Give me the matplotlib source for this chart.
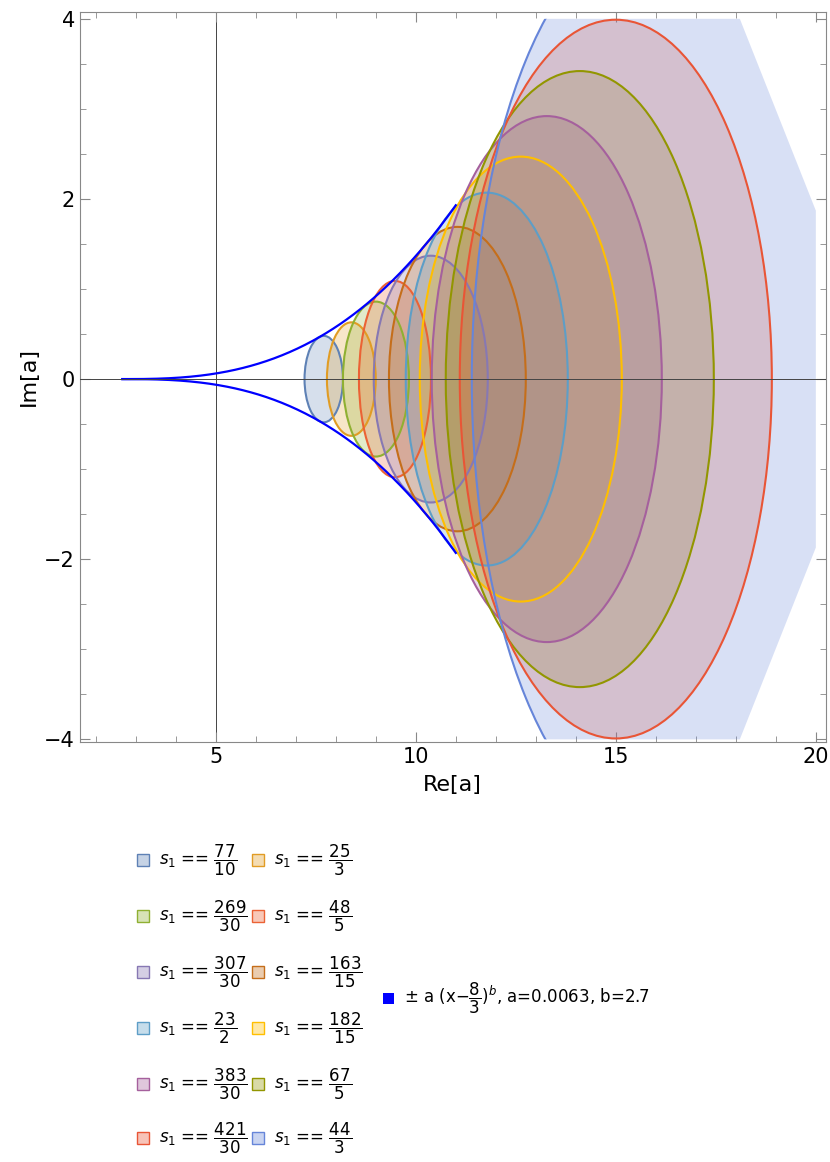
import numpy as np
import matplotlib.pyplot as plt
from matplotlib.patches import Ellipse, Rectangle, Polygon

# s1 labels, colours and read-off region extents (left, right, half-height)
labels = [r"\dfrac{77}{10}", r"\dfrac{25}{3}", r"\dfrac{269}{30}", r"\dfrac{48}{5}",
          r"\dfrac{307}{30}", r"\dfrac{163}{15}", r"\dfrac{23}{2}", r"\dfrac{182}{15}",
          r"\dfrac{383}{30}", r"\dfrac{67}{5}", r"\dfrac{421}{30}", r"\dfrac{44}{3}"]
colors = ["#5E81B5", "#E19C24", "#8FB032", "#EB6235", "#8778B3", "#C56E1A",
          "#5D9EC7", "#FFBF00", "#A5609D", "#929600", "#E95536", "#6685D9"]
lefts = [7.22, 7.78, 8.18, 8.58, 8.95, 9.33, 9.75, 10.1, 10.4, 10.75, 11.1, 11.4]
rights = [8.18, 9.0, 9.83, 10.38, 11.8, 12.75, 13.8, 15.15, 16.15, 17.45, 18.9, 20.6]
heights = [0.48, 0.63, 0.86, 1.09, 1.37, 1.69, 2.07, 2.47, 2.92, 3.42, 3.99, 5.0]

env_a, env_b, env_x0 = 0.0063, 2.7, 8 / 3

fig = plt.figure(figsize=(8.3, 11.62), dpi=100)
ax = fig.add_axes([0.096, 0.3614, 0.899, 0.6286])
ax.set_xlim(1.6, 20.25)
ax.set_ylim(-4.03, 4.08)

ax.axvline(5, color="#444444", lw=0.7, zorder=0)
ax.axhline(0, color="#444444", lw=0.7, zorder=25)

clip = Polygon([(0, -4), (0, 4), (18.1, 4), (20, 1.87), (20, -1.87), (18.1, -4)],
               closed=True, transform=ax.transData)
for i in range(len(labels)):
    cx = (lefts[i] + rights[i]) / 2
    w = rights[i] - lefts[i]
    if i == len(labels) - 1:
        cx, w = 16.0, 9.2
    e = Ellipse((cx, 0), w, 2 * heights[i], facecolor=colors[i], alpha=0.25, lw=0, zorder=2)
    eo = Ellipse((cx, 0), w, 2 * heights[i], facecolor="none", edgecolor=colors[i], lw=1.5, zorder=10)
    ax.add_patch(e)
    ax.add_patch(eo)
    if i == len(labels) - 1:
        e.set_clip_path(clip)
        eo.set_clip_path(clip)

x = np.linspace(env_x0, 11, 300)
y = env_a * (x - env_x0) ** env_b
ax.plot(x, y, color="#0000FF", lw=1.6, zorder=20)
ax.plot(x, -y, color="#0000FF", lw=1.6, zorder=20)

ax.set_xticks([5, 10, 15, 20])
ax.set_xticks(np.arange(2, 20.1, 1), minor=True)
ax.set_yticks([-4, -2, 0, 2, 4])
ax.set_yticks(np.arange(-4, 4.01, 0.5), minor=True)
ax.set_yticklabels(["\u22124", "\u22122", "0", "2", "4"])
ax.tick_params(direction="in", which="both", top=True, right=True, labelsize=15, color="#888888")
ax.tick_params(which="major", length=7)
ax.tick_params(which="minor", length=4)
for s in ax.spines.values():
    s.set_color("#888888")
ax.set_xlabel("Re[a]", fontsize=16, labelpad=6)
ax.set_ylabel("Im[a]", fontsize=16, labelpad=4)

# legend
rows = [860, 916, 972, 1028, 1084, 1138]
for i in range(len(labels)):
    r, c = divmod(i, 2)
    px = 137 if c == 0 else 252
    py = rows[r]
    fig.add_artist(Rectangle((px / 830, 1 - (py + 6) / 1162), 12 / 830, 12 / 1162,
                             facecolor=colors[i], alpha=0.35, edgecolor="none", transform=fig.transFigure))
    fig.add_artist(Rectangle((px / 830, 1 - (py + 6) / 1162), 12 / 830, 12 / 1162,
                             facecolor="none", edgecolor=colors[i], lw=1, transform=fig.transFigure))
    fig.text((px + 22) / 830, 1 - py / 1162, r"$s_1$ == $" + labels[i] + "$",
             fontsize=12, va="center", ha="left")

fig.add_artist(Rectangle((383 / 830, 1 - 1004 / 1162), 11 / 830, 11 / 1162,
                         facecolor="#0000FF", edgecolor="none", transform=fig.transFigure))
fig.text(404 / 830, 1 - 998 / 1162,
         r"$\pm$ a (x$-\dfrac{8}{3})^b$, a=0.0063, b=2.7", fontsize=12, va="center", ha="left")

fig.savefig("out.png", dpi=100)
